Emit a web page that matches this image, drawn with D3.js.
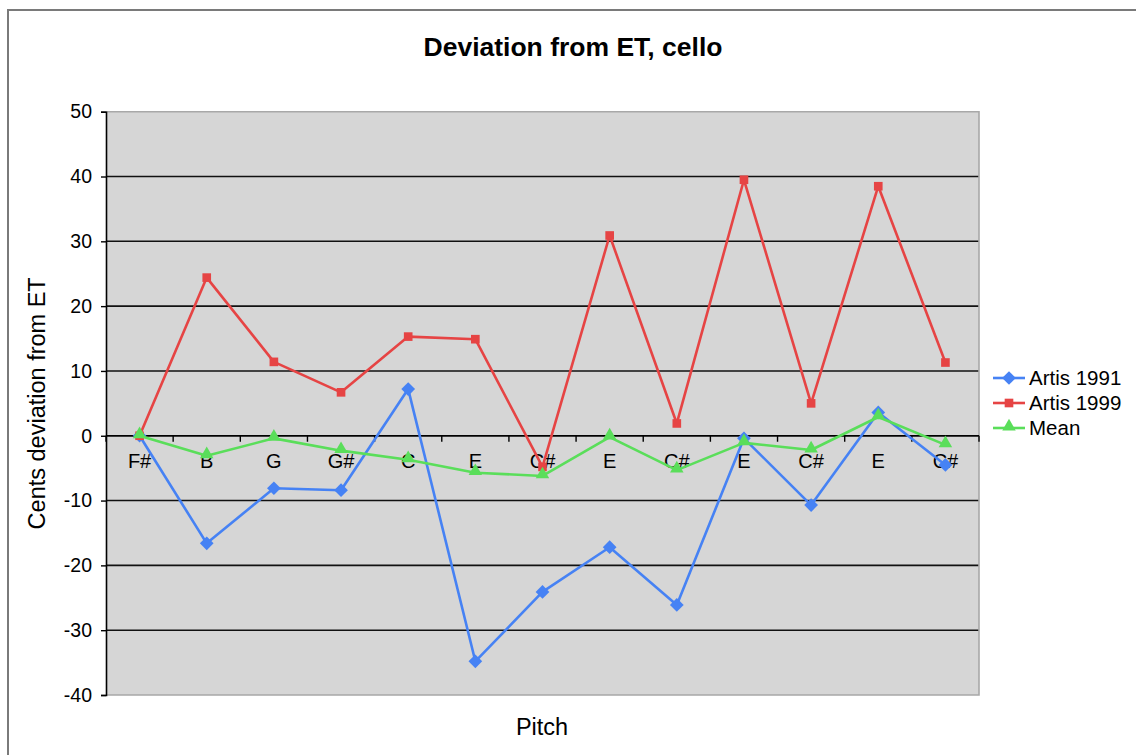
<!DOCTYPE html>
<html><head><meta charset="utf-8">
<script src="https://cdn.jsdelivr.net/npm/d3@7"></script>
<style>html,body{margin:0;padding:0;background:#fff;}svg{display:block;font-family:"Liberation Sans",Arial,sans-serif;}</style>
</head><body>
<svg id="c" width="1136" height="755"></svg>
<script>
const categories = ["F#","B","G","G#","C","E","C#","E","C#","E","C#","E","C#"];
const artis1991 = [0,-16.6,-8.1,-8.4,7.2,-34.8,-24.1,-17.2,-26.1,-0.4,-10.7,3.6,-4.5];
const artis1999 = [0,24.4,11.4,6.7,15.3,14.9,-4.8,30.9,1.9,39.5,5.0,38.5,11.3];
const meanVals  = [0,-3.1,-0.4,-2.3,-3.7,-5.7,-6.2,-0.2,-5.3,-1.1,-2.2,2.9,-1.4];
const yTicks = [-40,-30,-20,-10,0,10,20,30,40,50];
const seriesNames = ["Artis 1991","Artis 1999","Mean"];
const colors = ["#4682f4","#e64444","#5ade5a"];
const symbols = [d3.symbolDiamond2, d3.symbolSquare2, d3.symbolTriangle2];

const svg = d3.select("#c");
const L = 106, T = 111.7, R = 979, B = 695;

// outer frame (top + left only visible)
svg.append("path").attr("d", `M8,760 L8,10 L1140,10`).attr("fill","none").attr("stroke","#7a7a7a").attr("stroke-width",2);

const x = d3.scaleBand().domain(d3.range(categories.length)).range([L, R]).paddingInner(0).paddingOuter(0);
const y = d3.scaleLinear().domain([-40, 50]).range([B, T]);
const cx = i => x(i) + x.bandwidth()/2;

// plot background
svg.append("rect").attr("x", L).attr("y", T).attr("width", R-L).attr("height", B-T).attr("fill","#d6d6d6");

// gridlines
svg.append("g").selectAll("line").data(yTicks.filter(v => v > -40 && v < 50)).join("line")
  .attr("x1", L).attr("x2", R).attr("y1", d => y(d)).attr("y2", d => y(d))
  .attr("stroke","#111").attr("stroke-width",1.6);

// border gray (top, right, bottom)
svg.append("path").attr("d", `M${L},${T} L${R},${T} L${R},${B} L${L},${B}`).attr("fill","none").attr("stroke","#a8a8a8").attr("stroke-width",1.6);

// y axis
const yAxis = d3.axisLeft(y).tickValues(yTicks).tickSize(5).tickPadding(9).tickFormat(d => String(d));
const gy = svg.append("g").attr("transform", `translate(${L},0)`).call(yAxis);
gy.select(".domain").attr("stroke","#000").attr("stroke-width",1.6);
gy.selectAll(".tick line").attr("stroke","#000").attr("stroke-width",1.4);
gy.selectAll(".tick text").attr("font-size",19.5).attr("fill","#000").attr("font-family","Liberation Sans, Arial, sans-serif");

// x axis at y=0
const gx = svg.append("g").attr("transform", `translate(0,${y(0)})`);
gx.append("line").attr("x1", L).attr("x2", R).attr("stroke","#000").attr("stroke-width",1.6);
gx.selectAll("line.tk").data(d3.range(categories.length+1)).join("line").attr("class","tk")
  .attr("x1", i => L + i*x.bandwidth()).attr("x2", i => L + i*x.bandwidth())
  .attr("y1", 0).attr("y2", 6).attr("stroke","#000").attr("stroke-width",1.4);
gx.selectAll("text").data(categories).join("text")
  .attr("x", (d,i) => cx(i)).attr("y", 32).attr("text-anchor","middle")
  .attr("font-size",20).attr("fill","#000").text(d => d);

// series
const allSeries = [artis1991, artis1999, meanVals];
const line = d3.line().x((d,i) => cx(i)).y(d => y(d));
const sizes = [120, 95, 130];
allSeries.forEach((vals, s) => {
  svg.append("path").datum(vals).attr("d", line).attr("fill","none")
    .attr("stroke", colors[s]).attr("stroke-width",2.6).attr("stroke-linejoin","round");
  svg.append("g").selectAll("path").data(vals).join("path")
    .attr("transform", (d,i) => `translate(${cx(i)},${y(d) + (s===2 ? -1.5 : 0)})`)
    .attr("d", d3.symbol().type(symbols[s]).size(sizes[s])())
    .attr("fill", colors[s]);
});

// title
svg.append("text").attr("x", 573).attr("y", 56).attr("text-anchor","middle")
  .attr("font-size",26.5).attr("font-weight","bold").attr("fill","#000").text("Deviation from ET, cello");

// axis titles
svg.append("text").attr("x", 542).attr("y", 735).attr("text-anchor","middle")
  .attr("font-size",23.5).attr("fill","#000").text("Pitch");
svg.append("text").attr("transform", `translate(45,${(T+B)/2}) rotate(-90)`).attr("text-anchor","middle")
  .attr("font-size",23.5).attr("fill","#000").text("Cents deviation from ET");

// legend
const lg = svg.append("g");
seriesNames.forEach((n, s) => {
  const yy = 378 + s*25;
  lg.append("line").attr("x1", 993).attr("x2", 1025).attr("y1", yy).attr("y2", yy).attr("stroke", colors[s]).attr("stroke-width",2.6);
  lg.append("path").attr("transform", `translate(1009,${yy + (s===2?-1.5:0)})`)
    .attr("d", d3.symbol().type(symbols[s]).size(sizes[s])()).attr("fill", colors[s]);
  lg.append("text").attr("x", 1029).attr("y", yy + 7).attr("font-size",20.5).attr("fill","#000").text(n);
});
</script>
</body></html>
